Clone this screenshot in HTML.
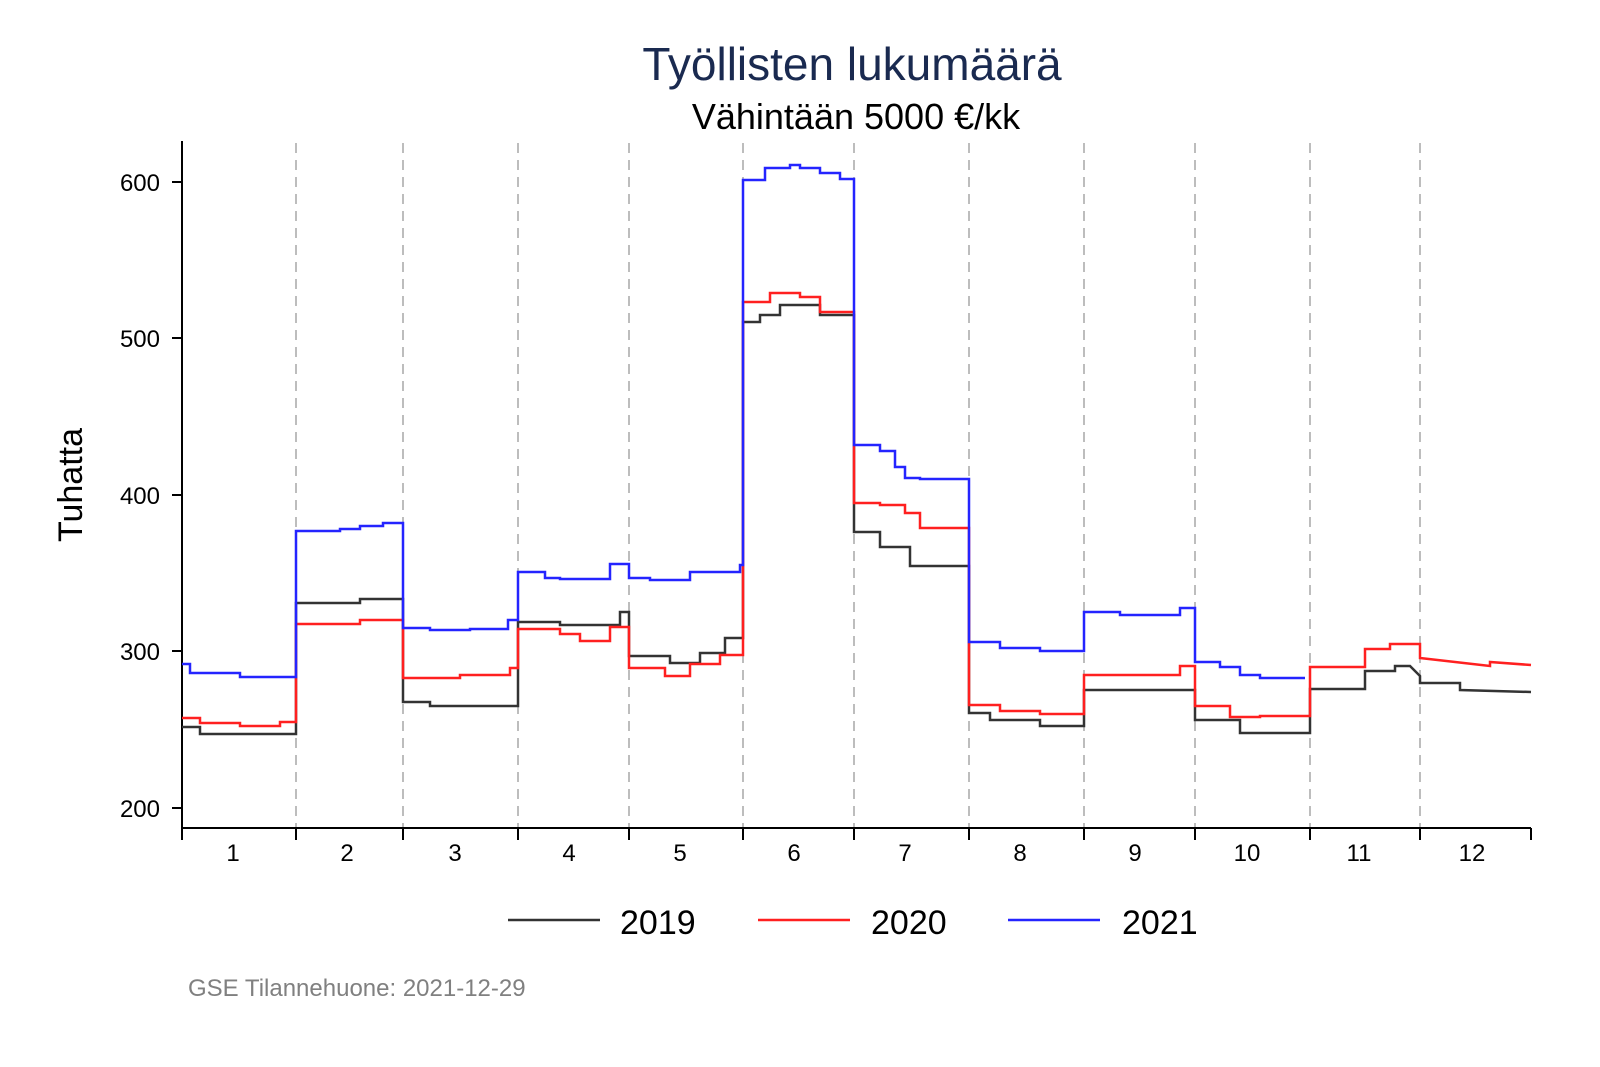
<!DOCTYPE html>
<html><head><meta charset="utf-8"><style>
body{margin:0;background:#fff;}
svg{display:block;font-family:"Liberation Sans",Arial,sans-serif;}
</style></head><body>
<svg width="1600" height="1067" viewBox="0 0 1600 1067" xmlns="http://www.w3.org/2000/svg">
<rect width="1600" height="1067" fill="#fff"/>
<text x="852" y="80" text-anchor="middle" font-size="46" fill="#1a2a50">Työllisten lukumäärä</text>
<text x="856" y="129" text-anchor="middle" font-size="36" fill="#000">Vähintään 5000 €/kk</text>
<g stroke="#bdbdbd" stroke-width="2" stroke-dasharray="10,7">
<line x1="296" y1="143" x2="296" y2="828"/><line x1="403" y1="143" x2="403" y2="828"/>
<line x1="518" y1="143" x2="518" y2="828"/><line x1="629" y1="143" x2="629" y2="828"/>
<line x1="743" y1="143" x2="743" y2="828"/><line x1="854" y1="143" x2="854" y2="828"/>
<line x1="969" y1="143" x2="969" y2="828"/><line x1="1084" y1="143" x2="1084" y2="828"/>
<line x1="1195" y1="143" x2="1195" y2="828"/><line x1="1310" y1="143" x2="1310" y2="828"/>
<line x1="1420" y1="143" x2="1420" y2="828"/>
</g>
<g stroke="#000" stroke-width="2" fill="none">
<line x1="182" y1="141" x2="182" y2="828"/>
<line x1="182" y1="828" x2="1531" y2="828"/>
<line x1="172" y1="182" x2="182" y2="182"/><line x1="172" y1="338" x2="182" y2="338"/>
<line x1="172" y1="495" x2="182" y2="495"/><line x1="172" y1="651" x2="182" y2="651"/>
<line x1="172" y1="808" x2="182" y2="808"/>
<line x1="182" y1="828" x2="182" y2="840"/><line x1="296" y1="828" x2="296" y2="840"/>
<line x1="403" y1="828" x2="403" y2="840"/><line x1="518" y1="828" x2="518" y2="840"/>
<line x1="629" y1="828" x2="629" y2="840"/><line x1="743" y1="828" x2="743" y2="840"/>
<line x1="854" y1="828" x2="854" y2="840"/><line x1="969" y1="828" x2="969" y2="840"/>
<line x1="1084" y1="828" x2="1084" y2="840"/><line x1="1195" y1="828" x2="1195" y2="840"/>
<line x1="1310" y1="828" x2="1310" y2="840"/><line x1="1420" y1="828" x2="1420" y2="840"/>
<line x1="1531" y1="828" x2="1531" y2="840"/>
</g>
<g font-size="24" fill="#000" text-anchor="end">
<text x="160" y="191">600</text><text x="160" y="347">500</text><text x="160" y="504">400</text>
<text x="160" y="660">300</text><text x="160" y="817">200</text>
</g>
<g font-size="24" fill="#000" text-anchor="middle">
<text x="233" y="861">1</text><text x="347" y="861">2</text><text x="455" y="861">3</text>
<text x="569" y="861">4</text><text x="680" y="861">5</text><text x="794" y="861">6</text>
<text x="905" y="861">7</text><text x="1020" y="861">8</text><text x="1135" y="861">9</text>
<text x="1247" y="861">10</text><text x="1359" y="861">11</text><text x="1472" y="861">12</text>
</g>
<text transform="translate(82,485) rotate(-90)" text-anchor="middle" font-size="34" fill="#000">Tuhatta</text>
<g fill="none" stroke-width="2.5" stroke-linejoin="miter">
<polyline stroke="#333" points="182,727 200,727 200,734 296,734 296,603 360,603 360,599 403,599 403,702 430,702 430,706 518,706 518,622 560,622 560,625 620,625 620,612 629,612 629,656 670,656 670,663 700,663 700,653 725,653 725,638 743,638 743,322 760,322 760,315 780,315 780,305 820,305 820,315 854,315 854,532 880,532 880,547 910,547 910,566 969,566 969,713 990,713 990,720 1040,720 1040,726 1084,726 1084,690 1195,690 1195,720 1240,720 1240,733 1310,733 1310,689 1365,689 1365,671 1395,671 1395,666 1410,666 1420,676 1420,683 1460,683 1460,690 1531,692"/>
<polyline stroke="#ff2020" points="182,718 200,718 200,723 240,723 240,726 280,726 280,722 296,722 296,624 360,624 360,620 403,620 403,678 460,678 460,675 510,675 510,668 518,668 518,629 560,629 560,634 580,634 580,641 610,641 610,627 629,627 629,668 665,668 665,676 690,676 690,664 720,664 720,655 743,655 743,302 770,302 770,293 800,293 800,297 820,297 820,312 854,312 854,503 880,503 880,505 905,505 905,513 920,513 920,528 969,528 969,705 1000,705 1000,711 1040,711 1040,714 1084,714 1084,675 1180,675 1180,666 1195,666 1195,706 1230,706 1230,717 1260,717 1260,716 1310,716 1310,667 1365,667 1365,649 1390,649 1390,644 1420,644 1420,658 1490,666 1490,662 1531,665"/>
<polyline stroke="#2424ff" points="182,664 190,664 190,673 240,673 240,677 296,677 296,531 340,531 340,529 360,529 360,526 383,526 383,523 403,523 403,628 430,628 430,630 470,630 470,629 508,629 508,620 518,620 518,572 545,572 545,578 560,578 560,579 610,579 610,564 629,564 629,578 650,578 650,580 690,580 690,572 740,572 740,565 743,565 743,180 765,180 765,168 790,168 790,165 800,165 800,168 820,168 820,173 840,173 840,179 854,179 854,445 880,445 880,451 895,451 895,467 905,467 905,478 920,478 920,479 969,479 969,642 1000,642 1000,648 1040,648 1040,651 1084,651 1084,612 1120,612 1120,615 1180,615 1180,608 1195,608 1195,662 1220,662 1220,667 1240,667 1240,675 1260,675 1260,678 1305,678"/>
</g>
<g stroke-width="2.5">
<line x1="508" y1="920" x2="600" y2="920" stroke="#333"/>
<line x1="758" y1="920" x2="850" y2="920" stroke="#ff2020"/>
<line x1="1008" y1="920" x2="1100" y2="920" stroke="#2424ff"/>
</g>
<g font-size="34" fill="#000">
<text x="620" y="934">2019</text><text x="871" y="934">2020</text><text x="1122" y="934">2021</text>
</g>
<text x="188" y="996" font-size="24" fill="#808080">GSE Tilannehuone: 2021-12-29</text>
</svg>
</body></html>
